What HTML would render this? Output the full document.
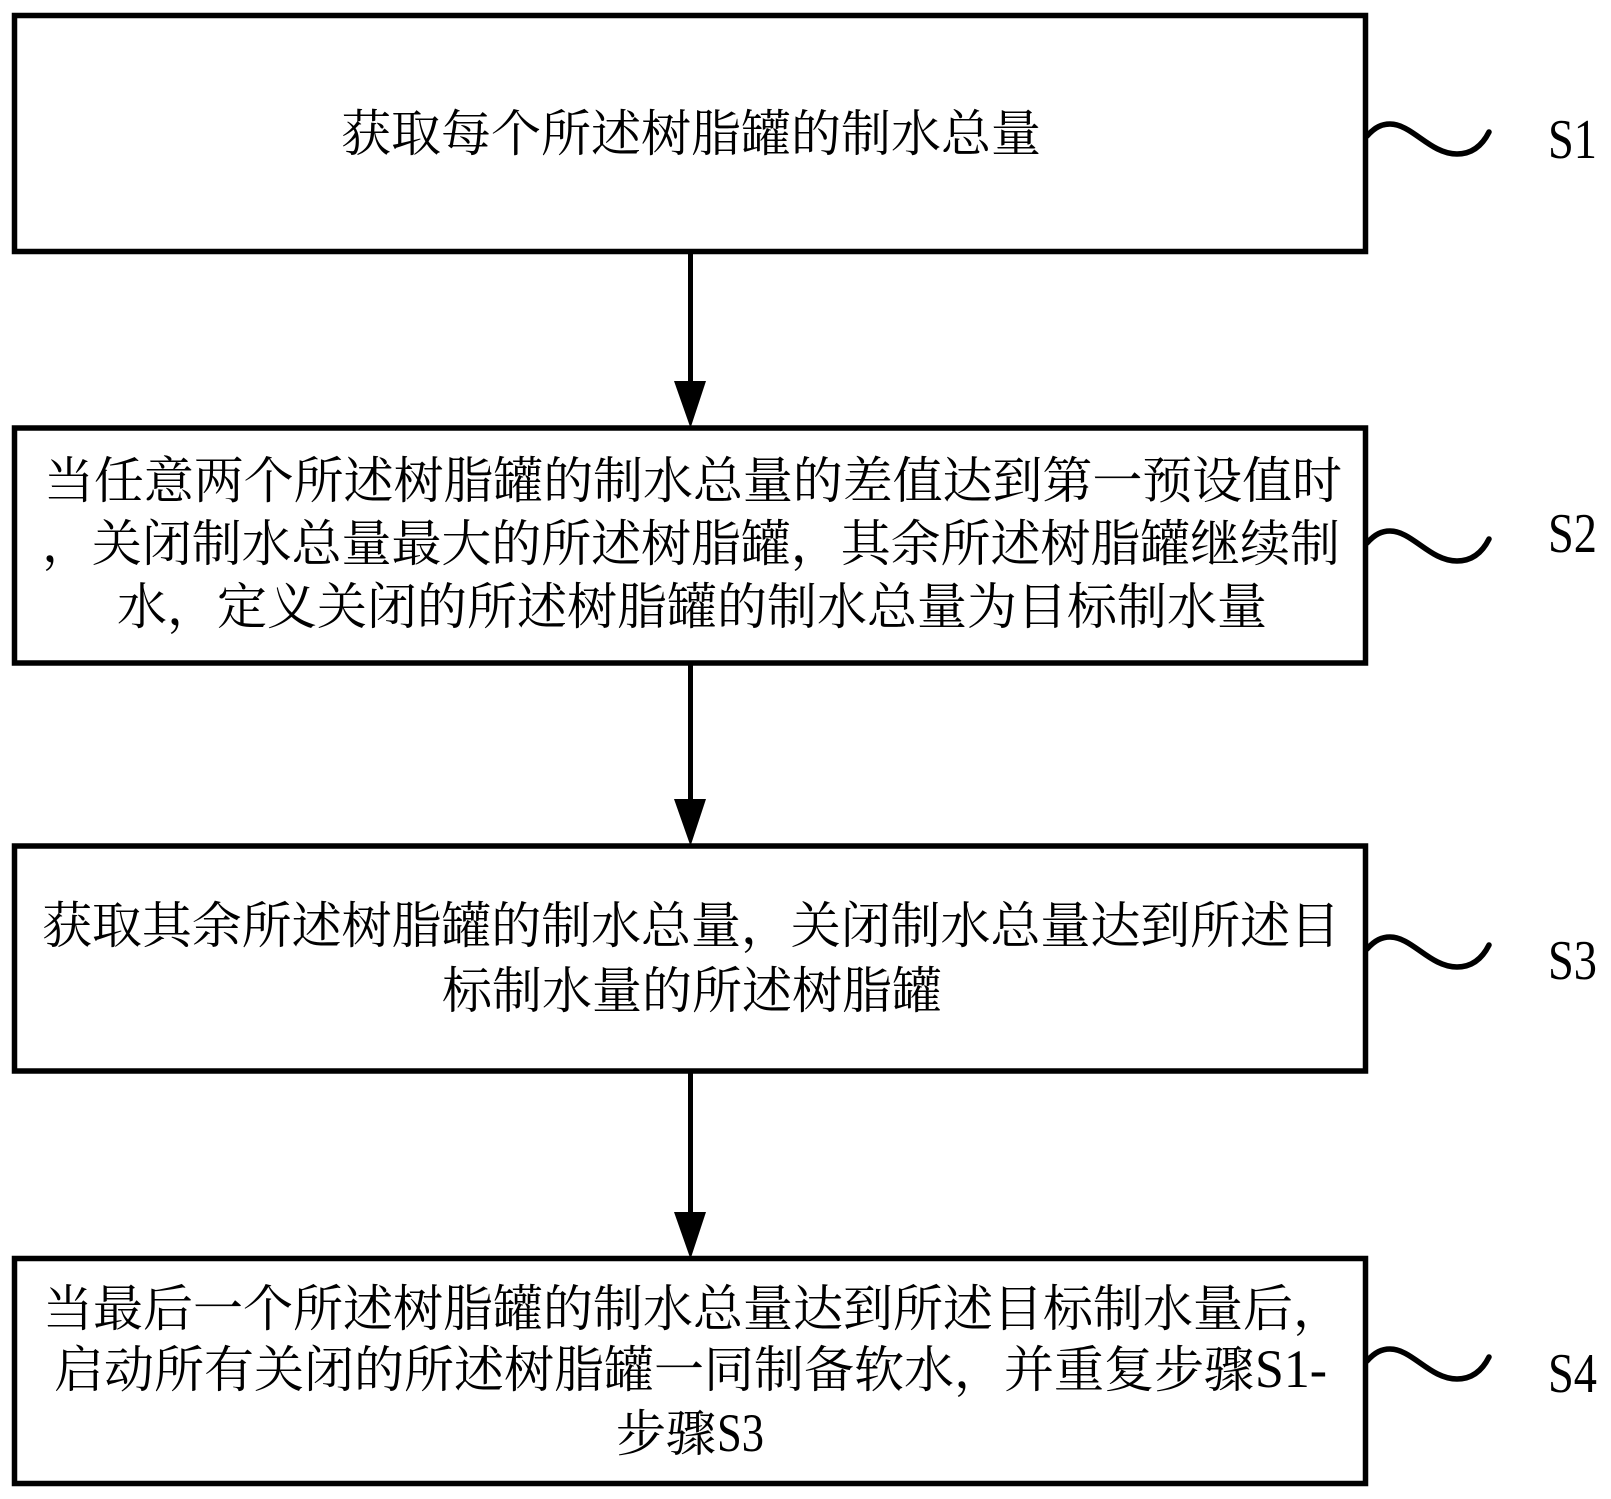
<!DOCTYPE html>
<html lang="zh">
<head>
<meta charset="utf-8">
<style>
html,body{margin:0;padding:0;background:#fff;}
svg{display:block;}
.c{font-family:"Liberation Serif","Noto Serif CJK SC",serif;font-size:50px;font-weight:400;fill:#000;}
.l{font-family:"Liberation Serif",serif;font-size:54px;fill:#000;}
.s{font-family:"Liberation Serif",serif;font-size:56px;fill:#000;}
.b{fill:none;stroke:#000;stroke-width:5.5;}
.w{fill:none;stroke:#000;stroke-width:5.5;stroke-linecap:round;}
</style>
</head>
<body>
<svg width="1611" height="1499" viewBox="0 0 1611 1499" xmlns="http://www.w3.org/2000/svg">
<rect width="1611" height="1499" fill="#fff"/>
<rect class="b" x="14.5" y="15.5" width="1351" height="236"/>
<rect class="b" x="14.5" y="428" width="1351" height="235"/>
<rect class="b" x="14.5" y="846" width="1351" height="225"/>
<rect class="b" x="14.5" y="1258.5" width="1351" height="225"/>

<g stroke="#000" stroke-width="5" fill="#000">
<line x1="690.5" y1="250" x2="690.5" y2="385"/>
<line x1="690.5" y1="662" x2="690.5" y2="800"/>
<line x1="690.5" y1="1070" x2="690.5" y2="1215"/>
</g>
<polygon points="674,381 706,381 690.5,428"/>
<polygon points="674,799 706,799 690.5,846"/>
<polygon points="674,1212 706,1212 690.5,1259"/>

<path class="w" d="M1367 136 C1375 127 1382 124 1390 124 C1412 124 1430 154 1457 154 C1472 154 1482 146 1489 132"/>
<path class="w" d="M1367 543 C1375 534 1382 531 1390 531 C1412 531 1430 561 1457 561 C1472 561 1482 553 1489 539"/>
<path class="w" d="M1367 949 C1375 940 1382 937 1390 937 C1412 937 1430 967 1457 967 C1472 967 1482 959 1489 945"/>
<path class="w" d="M1367 1361 C1375 1352 1382 1349 1390 1349 C1412 1349 1430 1379 1457 1379 C1472 1379 1482 1371 1489 1357"/>

<text class="s" x="1548" y="158" textLength="49" lengthAdjust="spacingAndGlyphs">S1</text>
<text class="s" x="1548" y="552" textLength="49" lengthAdjust="spacingAndGlyphs">S2</text>
<text class="s" x="1548" y="979" textLength="49" lengthAdjust="spacingAndGlyphs">S3</text>
<text class="s" x="1548" y="1392" textLength="49" lengthAdjust="spacingAndGlyphs">S4</text>

<text class="c" x="341" y="151" textLength="700">获取每个所述树脂罐的制水总量</text>

<text class="c" x="44" y="498" textLength="1298">当任意两个所述树脂罐的制水总量的差值达到第一预设值时</text>
<text class="c" x="42" y="561" textLength="1298">，关闭制水总量最大的所述树脂罐，其余所述树脂罐继续制</text>
<text class="c" x="117" y="624" textLength="1150">水，定义关闭的所述树脂罐的制水总量为目标制水量</text>

<text class="c" x="42" y="943" textLength="1298">获取其余所述树脂罐的制水总量，关闭制水总量达到所述目</text>
<text class="c" x="442" y="1008" textLength="500">标制水量的所述树脂罐</text>

<text class="c" x="43" y="1326" textLength="1300">当最后一个所述树脂罐的制水总量达到所述目标制水量后，</text>
<text class="c" x="54" y="1387" textLength="1200">启动所有关闭的所述树脂罐一同制备软水，并重复步骤</text>
<text class="l" x="1255" y="1387" textLength="72" lengthAdjust="spacingAndGlyphs">S1-</text>
<text class="c" x="616" y="1451" textLength="100">步骤</text>
<text class="l" x="717" y="1451" textLength="47" lengthAdjust="spacingAndGlyphs">S3</text>
</svg>
</body>
</html>
